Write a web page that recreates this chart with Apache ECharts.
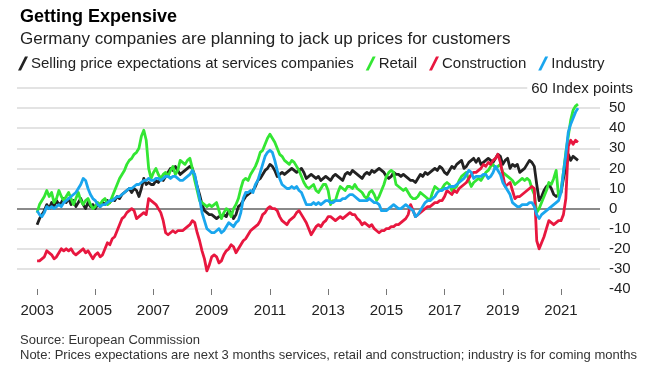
<!DOCTYPE html>
<html><head><meta charset="utf-8">
<script src="https://cdn.jsdelivr.net/npm/echarts@6/dist/echarts.min.js"></script>
<style>html,body{margin:0;padding:0;background:#fff}#c{width:664px;height:372px}</style>
</head><body><div id="c"></div>
<script>
// Monthly data, Jan 2003 .. Aug 2021
const firstYear = 2003;
const services = [
 -8,-5,-3,-1,2,0,3,1,4,2,3,5,
 3,5,2,4,1,3,5,2,0,3,1,2,
 0,2,1,3,2,4,3,5,4,6,5,7,
 8,9,10,8,10,9,6,10,15,12,13,12,
 12,14,13,15,14,16,18,20,19,21,19,17,
 18,19,20,21,20,16,11,7,2,-1,-2,-3,
 -3,-4,-5,-4,-4,-3,-4,-1,-2,-5,-3,1,
 2,4,6,7,8,9,11,14,15,17,19,20,
 22,21,19,16,17,18,17,18,19,20,19,18,
 19,20,18,15,16,17,16,15,16,14,15,16,
 15,14,16,17,16,15,14,17,18,17,19,18,
 17,16,15,17,18,17,19,18,19,20,19,18,
 16,15,16,18,17,17,16,17,16,15,14,14,
 13,15,17,16,18,17,18,19,20,19,21,20,
 18,17,19,21,20,22,23,24,20,21,23,24,
 25,23,25,22,23,24,25,24,23,25,27,26,
 22,24,25,20,22,21,22,18,19,20,22,24,
 23,21,12,4,6,9,11,12,10,7,6,7,
 8,15,20,27,24,26,25,24
];
const retail = [
 -2,2,4,6,9,6,8,3,5,9,6,4,
 6,8,5,2,5,8,4,2,4,5,2,0,
 1,3,2,4,5,2,3,6,9,12,15,17,
 19,22,24,25,27,28,30,36,39,34,20,15,
 18,20,17,15,17,18,16,19,21,17,19,24,
 23,22,24,25,20,14,9,4,3,2,1,2,
 1,2,3,-1,-5,-2,0,-1,-4,0,2,5,
 10,14,15,14,17,19,21,24,28,29,32,35,
 37,35,33,30,27,26,24,23,22,24,23,21,
 19,16,13,11,10,11,12,9,8,10,12,12,
 9,2,4,4,8,11,10,9,11,11,10,12,
 10,9,8,6,5,8,9,7,4,6,9,12,
 16,18,19,18,12,11,10,9,10,8,6,5,
 5,6,8,7,6,5,4,8,11,10,9,10,
 12,13,12,9,10,11,14,16,17,18,14,11,
 13,14,15,14,16,18,19,21,22,20,21,22,
 18,17,16,15,14,12,13,14,15,14,15,14,
 10,7,-2,0,3,6,9,13,12,15,19,6,
 9,18,28,36,44,49,51,52
];
const construction = [
 -26,-26,-25,-24,-21,-22,-23,-25,-24,-22,-20,-21,
 -20,-21,-20,-22,-23,-22,-21,-20,-22,-21,-23,-25,
 -23,-22,-24,-23,-20,-17,-18,-15,-14,-11,-8,-5,
 -4,-2,-1,0,-1,-5,-4,-3,-2,-3,5,4,
 3,2,0,-2,-6,-12,-13,-12,-11,-12,-11,-11,
 -11,-10,-9,-8,-6,-7,-12,-16,-21,-25,-31,-28,
 -24,-23,-24,-27,-26,-23,-21,-20,-18,-19,-22,-20,
 -18,-16,-15,-13,-11,-10,-9,-8,-6,-3,-2,0,
 1,0,0,-1,-4,-6,-7,-8,-6,-5,-4,-2,
 -1,-3,-5,-7,-10,-13,-11,-9,-8,-9,-7,-6,
 -4,-4,-5,-6,-5,-4,-5,-4,-3,-2,-3,-3,
 -5,-6,-8,-7,-8,-9,-8,-10,-11,-12,-11,-11,
 -10,-10,-9,-9,-8,-8,-7,-6,-5,-3,2,-1,
 -4,-3,-2,-1,0,1,1,2,3,3,4,4,
 6,9,8,7,9,8,10,11,12,13,15,17,
 18,18,19,20,22,21,23,22,24,25,27,23,
 17,11,12,13,9,5,6,6,7,8,9,10,
 11,10,-16,-20,-17,-14,-10,-6,-7,-8,-7,-6,
 -6,-3,5,31,34,32,34,33
];
const industry = [
 -1,-3,-4,-2,1,0,1,0,1,2,1,3,
 4,5,6,7,8,10,12,15,14,10,7,5,
 4,2,1,2,2,3,4,4,5,6,6,7,
 8,9,10,10,11,12,12,13,14,14,15,14,
 14,15,15,14,15,16,16,15,16,16,15,14,
 14,15,16,17,19,17,11,5,-2,-6,-10,-11,
 -12,-12,-11,-10,-12,-11,-9,-7,-8,-9,-7,-6,
 -2,5,8,8,9,8,12,14,18,22,26,28,
 29,28,24,19,15,12,11,10,10,11,10,11,
 9,8,5,2,2,2,3,2,3,2,3,4,
 4,3,3,4,4,4,5,5,6,7,7,6,
 5,4,4,4,4,5,4,3,3,2,-1,-1,
 -1,0,1,2,1,0,0,1,2,1,0,-1,
 -4,-3,-1,1,3,4,4,5,6,8,9,9,
 10,10,11,11,11,12,13,14,15,17,19,18,
 15,16,16,16,17,17,15,16,18,21,19,17,
 13,11,9,7,3,2,1,1,2,2,2,3,
 3,1,-3,-5,-3,-2,-1,0,1,2,3,4,
 8,18,27,38,42,45,48,50
];
const seriesNames = ['Selling price expectations at services companies','Retail','Construction','Industry'];
const seriesColors = ['#222222','#33e633','#e8173f','#1aa6ee'];
const xTickYears = [2003,2005,2007,2009,2011,2013,2015,2017,2019,2021];

function pairs(arr){ return arr.map((v,i)=>[firstYear + i/12, v]); }

const FONT = '"Liberation Sans", Arial, sans-serif';
const chart = echarts.init(document.getElementById('c'), null, {renderer:'canvas'});
const slash = 'path://M7,0 L10,0 L3,14 L0,14 Z';
const gridColor = '#e3e3e3';

chart.setOption({
  animation:false,
  textStyle:{fontFamily:FONT},
  title:[
    {text:'Getting Expensive', left:20, top:8, padding:0, textStyle:{fontSize:18, fontWeight:'bold', color:'#000', fontFamily:FONT}},
    {text:'Germany companies are planning to jack up prices for customers', left:20, top:31, padding:0, textStyle:{fontSize:17, fontWeight:'normal', color:'#222', fontFamily:FONT}},
    {text:'Source: European Commission', left:20, top:334, padding:0, textStyle:{fontSize:13, fontWeight:'normal', color:'#333', fontFamily:FONT}},
    {text:'Note: Prices expectations are next 3 months services, retail and construction; industry is for coming months', left:20, top:349, padding:0, textStyle:{fontSize:13, fontWeight:'normal', color:'#333', fontFamily:FONT}}
  ],
  legend:{
    left:18, top:56, padding:0, itemGap:12, itemWidth:10, itemHeight:14,
    icon:slash,
    textStyle:{fontSize:15, color:'#222', fontFamily:FONT, padding:[0,0,0,-2]},
    data:seriesNames
  },
  grid:{left:17, right:64, top:88, bottom:83},
  xAxis:{
    type:'value', min:2002.31, max:2022.34,
    axisLine:{show:false, onZero:false},
    axisTick:{show:true, customValues:xTickYears, length:6, lineStyle:{color:'#777', width:1}},
    axisLabel:{customValues:xTickYears, formatter:v=>String(Math.round(v)), fontSize:15, color:'#222', margin:14, fontFamily:FONT},
    splitLine:{show:false}
  },
  yAxis:{
    type:'value', position:'right', min:-40, max:60, interval:10,
    axisLine:{show:false}, axisTick:{show:false},
    axisLabel:{formatter:v=> v===60 ? '' : String(v), fontSize:15, color:'#222', margin:9, align:'left', fontFamily:FONT},
    splitLine:{show:true, lineStyle:{width:2, color:['rgba(0,0,0,0)',gridColor,gridColor,gridColor,'#8a8a8a',gridColor,gridColor,gridColor,gridColor,gridColor,gridColor]}}
  },
  graphic:[{
    type:'text', right:31, top:80, z:100,
    style:{text:'60 Index points', font:'15px '+FONT, fill:'#222', backgroundColor:'#fff', padding:[1,0,1,4]}
  }],
  series:[services, retail, construction, industry].map((arr,i)=>({
    name:seriesNames[i], type:'line', data:pairs(arr), showSymbol:false, symbol:'none',
    color:seriesColors[i],
    lineStyle:{width:2.8, color:seriesColors[i], join:'round'}
  }))
});
</script></body></html>
